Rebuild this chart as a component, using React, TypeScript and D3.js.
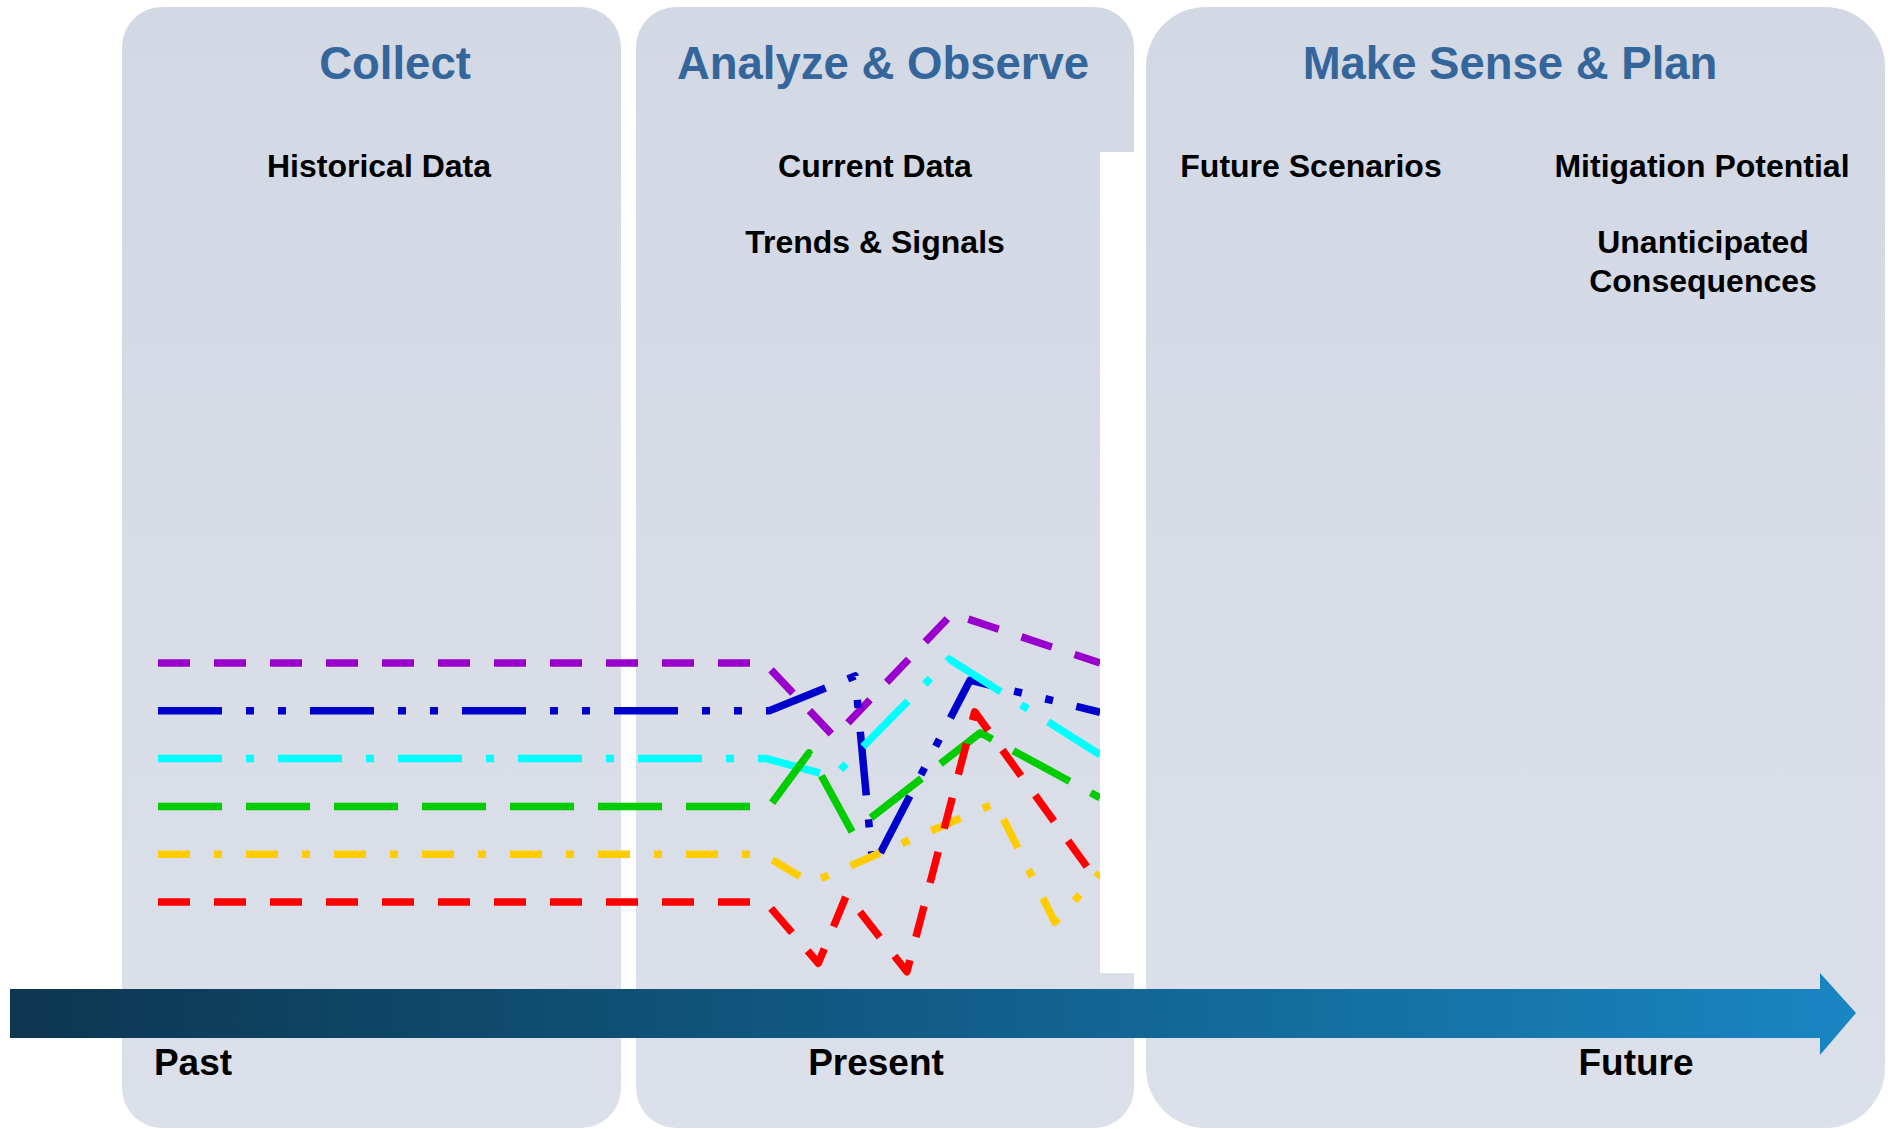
import React, { useEffect, useRef } from 'react';
import * as d3 from 'd3';

// stage panels
const panelTitles = ['Collect', 'Analyze & Observe', 'Make Sense & Plan'];
const panelBounds = [
  [122, 621],
  [636, 1134],
  [1146, 1885],
];
const panelRadius = [40, 40, 60];
const titleCenters = [395, 883, 1510];

// sub labels inside the panels: text, center x, baseline y
const subLabels: [string, number, number][] = [
  ['Historical Data', 379, 177],
  ['Current Data', 875, 177],
  ['Trends & Signals', 875, 253],
  ['Future Scenarios', 1311, 177],
  ['Mitigation Potential', 1702, 177],
  ['Unanticipated', 1703, 253],
  ['Consequences', 1703, 292],
];

const timeLabels: [string, number][] = [
  ['Past', 193],
  ['Present', 876],
  ['Future', 1636],
];

// signal lines: time position (0..100) and level
const purpleT = [0, 64.4, 71.8, 84.3, 100];
const purpleV = [5, 5, 3.45, 6.03, 5.0];
const blueT = [0, 64.9, 74.0, 75.9, 86.2, 100];
const blueV = [4, 4, 4.73, 0.73, 4.64, 3.97];
const cyanT = [0, 64.6, 71.7, 84.0, 100];
const cyanV = [3, 3, 2.62, 5.08, 3.08];
const greenT = [0, 64.9, 69.1, 73.7, 87.3, 100];
const greenV = [2, 2, 3.12, 1.46, 3.54, 2.18];
const yellowT = [0, 64.2, 69.3, 88.9, 95.2, 100];
const yellowV = [1, 1, 0.4, 2.07, -0.42, 0.61];
const redT = [0, 64.5, 70.1, 73.1, 79.5, 86.7, 100];
const redV = [0, 0, -1.28, 0.15, -1.46, 3.98, 0.36];

const series = [
  { t: purpleT, v: purpleV, color: '#9900cc', dash: '32,24' },
  { t: blueT, v: blueV, color: '#0000cc', dash: '64,24,8,24,8,24' },
  { t: cyanT, v: cyanV, color: '#00ffff', dash: '64,24,8,24' },
  { t: greenT, v: greenV, color: '#00cc00', dash: '64,24' },
  { t: yellowT, v: yellowV, color: '#ffcc00', dash: '32,24,8,24' },
  { t: redT, v: redV, color: '#ff0000', dash: '32,24' },
];

const W = 1893;
const H = 1129;
const FONT = '"Liberation Sans", Arial, Helvetica, sans-serif';

export default function App() {
  const svgRef = useRef<SVGSVGElement>(null);

  useEffect(() => {
    if (!svgRef.current) return;
    const svg = d3.select(svgRef.current);
    svg.selectAll('*').remove();

    const defs = svg.append('defs');
    const pg = defs.append('linearGradient')
      .attr('id', 'panelFill')
      .attr('x1', 0).attr('y1', 0).attr('x2', 0).attr('y2', 1);
    pg.append('stop').attr('offset', '0%').attr('stop-color', '#d2d8e4');
    pg.append('stop').attr('offset', '100%').attr('stop-color', '#dce0ea');

    const ag = defs.append('linearGradient')
      .attr('id', 'arrowFill')
      .attr('gradientUnits', 'userSpaceOnUse')
      .attr('x1', 10).attr('y1', 0).attr('x2', 1856).attr('y2', 0);
    ag.append('stop').attr('offset', '0%').attr('stop-color', '#0d3650');
    ag.append('stop').attr('offset', '50%').attr('stop-color', '#115d88');
    ag.append('stop').attr('offset', '100%').attr('stop-color', '#1986c2');

    defs.append('clipPath').attr('id', 'lineClip')
      .append('rect').attr('x', 0).attr('y', 0).attr('width', 1100).attr('height', H);

    // panels
    svg.selectAll('.panel')
      .data(panelBounds)
      .join('rect')
      .attr('class', 'panel')
      .attr('x', d => d[0])
      .attr('y', 7)
      .attr('width', d => d[1] - d[0])
      .attr('height', 1121)
      .attr('rx', (d, i) => panelRadius[i])
      .attr('fill', 'url(#panelFill)');

    // white cut-out on the middle panel
    svg.append('rect')
      .attr('x', 1100).attr('y', 152)
      .attr('width', 40).attr('height', 821)
      .attr('fill', '#ffffff');

    // titles
    svg.selectAll('.title')
      .data(panelTitles)
      .join('text')
      .attr('class', 'title')
      .attr('x', (d, i) => titleCenters[i])
      .attr('y', 79)
      .attr('text-anchor', 'middle')
      .attr('font-family', FONT)
      .attr('font-weight', 'bold')
      .attr('font-size', 45.5)
      .attr('fill', '#34669b')
      .text(d => d);

    svg.selectAll('.sub')
      .data(subLabels)
      .join('text')
      .attr('class', 'sub')
      .attr('x', d => d[1])
      .attr('y', d => d[2])
      .attr('text-anchor', 'middle')
      .attr('font-family', FONT)
      .attr('font-weight', 'bold')
      .attr('font-size', 32)
      .attr('fill', '#000')
      .text(d => d[0]);

    // lines
    const x = d3.scaleLinear().domain([0, 100]).range([158, 1100]);
    const y = d3.scaleLinear().domain([0, 5]).range([902, 663]);
    const line = d3.line<[number, number]>()
      .x(d => x(d[0]))
      .y(d => y(d[1]));

    const lg = svg.append('g').attr('clip-path', 'url(#lineClip)');
    lg.selectAll('path')
      .data(series)
      .join('path')
      .attr('d', s => line(s.t.map((t, i) => [t, s.v[i]] as [number, number])))
      .attr('fill', 'none')
      .attr('stroke', s => s.color)
      .attr('stroke-width', 7.5)
      .attr('stroke-dasharray', s => s.dash)
      .attr('stroke-linejoin', 'round')
      .attr('stroke-linecap', 'butt');

    // time arrow
    const arrowPts: [number, number][] = [
      [10, 989], [1820, 989], [1820, 973], [1856, 1013],
      [1820, 1055], [1820, 1038], [10, 1038],
    ];
    svg.append('path')
      .attr('d', d3.line()(arrowPts) + 'Z')
      .attr('fill', 'url(#arrowFill)');

    svg.selectAll('.time')
      .data(timeLabels)
      .join('text')
      .attr('class', 'time')
      .attr('x', d => d[1])
      .attr('y', 1075)
      .attr('text-anchor', 'middle')
      .attr('font-family', FONT)
      .attr('font-weight', 'bold')
      .attr('font-size', 37)
      .attr('fill', '#000')
      .text(d => d[0]);
  }, []);

  return (
    <svg
      ref={svgRef}
      width={W}
      height={H}
      style={{ position: 'absolute', left: 0, top: 0, display: 'block', background: '#fff' }}
    />
  );
}
